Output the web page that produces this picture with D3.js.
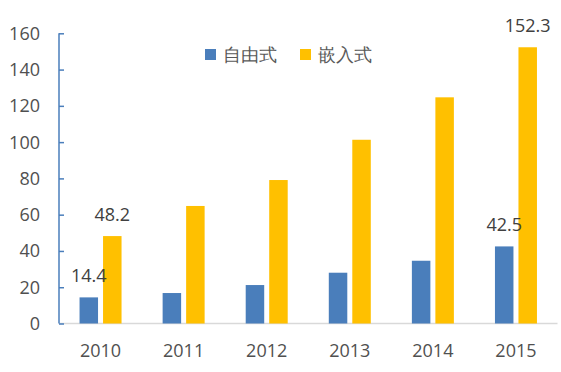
<!DOCTYPE html>
<html>
<head>
<meta charset="utf-8">
<script src="https://cdn.jsdelivr.net/npm/d3@7"></script>
<style>
  body { margin: 0; background: #fff; }
  text { font-family: "Open Sans", sans-serif; }
</style>
</head>
<body>
<div id="chart"></div>
<script>
const years = ["2010", "2011", "2012", "2013", "2014", "2015"];
const seriesNames = ["自由式", "嵌入式"];
const freeValues = [14.4, 16.8, 21.2, 28.0, 34.6, 42.5];
const embedValues = [48.2, 64.8, 79.1, 101.3, 124.7, 152.3];
const yTicks = [0, 20, 40, 60, 80, 100, 120, 140, 160];
const labelYears = ["2010", "2015"];

const colors = ["#4A7EBB", "#FFC000"];
const W = 561, H = 372;

const svg = d3.select('#chart')
    .append('svg')
    .attr('width', W)
    .attr('height', H);

const x = d3.scaleBand()
    .domain(years)
    .range([59, 557.5]);

const y = d3.scaleLinear()
    .domain([0, 160])
    .range([323.5, 33.3]);

const groupW = 42;
const inner = d3.scaleBand()
    .domain(seriesNames)
    .range([(x.bandwidth() - groupW) / 2, (x.bandwidth() + groupW) / 2])
    .paddingInner(0.213);

// bottom baseline
svg.append('line')
    .attr('x1', 59).attr('x2', 557.5)
    .attr('y1', y(0)).attr('y2', y(0))
    .attr('stroke', '#D9D9D9')
    .attr('stroke-width', 1.5);

// left axis, ticks pointing inward
const yAxis = svg.append('g')
    .attr('transform', 'translate(59,0)')
    .call(d3.axisRight(y).tickValues(yTicks).tickSize(5).tickFormat(''));
yAxis.selectAll('path, line').attr('stroke', '#4A7EBB').attr('stroke-width', 1.5);
yAxis.select('.domain').attr('d', `M0,${y(160)}V${y(0)}`);

svg.append('g').selectAll('text')
    .data(yTicks)
    .join('text')
    .attr('x', 40)
    .attr('y', d => y(d))
    .attr('dy', '0.36em')
    .attr('text-anchor', 'end')
    .attr('font-size', 18)
    .attr('fill', '#505050')
    .text(d => d);

// x labels
svg.append('g').selectAll('text')
    .data(years)
    .join('text')
    .attr('x', d => x(d) + x.bandwidth() / 2)
    .attr('y', 357)
    .attr('text-anchor', 'middle')
    .attr('font-size', 18)
    .attr('fill', '#505050')
    .text(d => d);

const rows = years.map((yr, i) => ({ year: yr, values: [freeValues[i], embedValues[i]] }));

const groups = svg.append('g').selectAll('g')
    .data(rows)
    .join('g')
    .attr('transform', d => `translate(${x(d.year)},0)`);

groups.selectAll('rect')
    .data(d => d.values.map((v, j) => ({ name: seriesNames[j], value: v, j: j })))
    .join('rect')
    .attr('x', d => inner(d.name))
    .attr('y', d => y(d.value))
    .attr('width', inner.bandwidth())
    .attr('height', d => y(0) - y(d.value))
    .attr('fill', d => colors[d.j]);

groups.filter(d => labelYears.includes(d.year))
    .selectAll('text')
    .data(d => d.values.map((v, j) => ({ name: seriesNames[j], value: v })))
    .join('text')
    .attr('x', d => inner(d.name) + inner.bandwidth() / 2)
    .attr('y', d => y(d.value) - 15)
    .attr('text-anchor', 'middle')
    .attr('font-size', 18)
    .attr('fill', '#404040')
    .text(d => d.value.toFixed(1));

// legend
const legendX = [205, 300];
const legend = svg.append('g').selectAll('g')
    .data(seriesNames)
    .join('g')
    .attr('transform', (d, i) => `translate(${legendX[i]},49)`);
legend.append('rect')
    .attr('width', 11).attr('height', 11)
    .attr('fill', (d, i) => colors[i]);
legend.append('text')
    .attr('x', 18)
    .attr('y', 6)
    .attr('dy', '0.36em')
    .attr('font-family', '"Noto Sans CJK SC", sans-serif')
    .attr('font-size', 18)
    .attr('fill', '#595959')
    .text(d => d);
</script>
</body>
</html>
